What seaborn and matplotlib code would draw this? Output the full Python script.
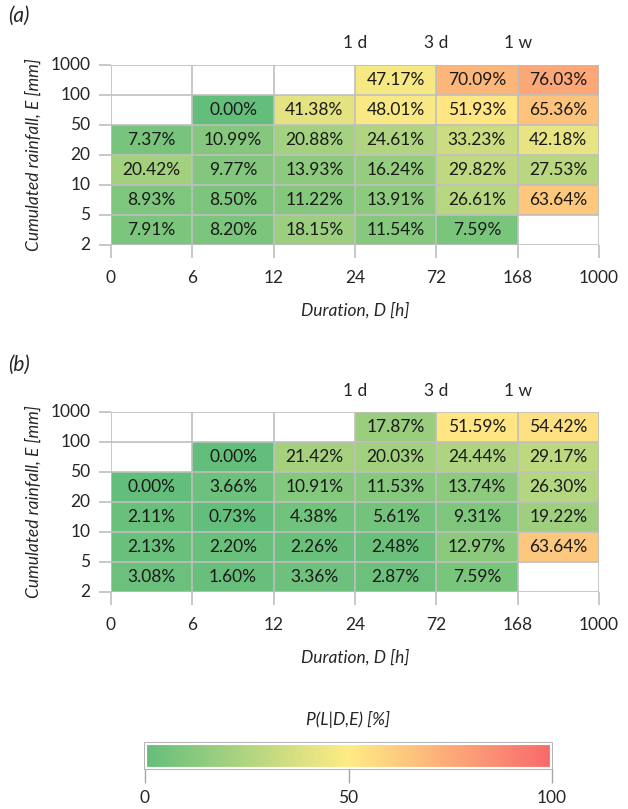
import numpy as np
import pandas as pd
import seaborn as sns
import matplotlib.pyplot as plt
from matplotlib.colors import LinearSegmentedColormap
from matplotlib.patches import Rectangle

# rows: rainfall classes (top -> bottom), columns: duration classes
e_ticks = ['1000', '100', '50', '20', '10', '5', '2']
d_ticks = ['0', '6', '12', '24', '72', '168', '1000']
top_labels = ['1 d', '3 d', '1 w']
top_pos = [3, 4, 5]

nan = np.nan
p_a = [
    [nan, nan, nan, 47.17, 70.09, 76.03],
    [nan, 0.00, 41.38, 48.01, 51.93, 65.36],
    [7.37, 10.99, 20.88, 24.61, 33.23, 42.18],
    [20.42, 9.77, 13.93, 16.24, 29.82, 27.53],
    [8.93, 8.50, 11.22, 13.91, 26.61, 63.64],
    [7.91, 8.20, 18.15, 11.54, 7.59, nan],
]
p_b = [
    [nan, nan, nan, 17.87, 51.59, 54.42],
    [nan, 0.00, 21.42, 20.03, 24.44, 29.17],
    [0.00, 3.66, 10.91, 11.53, 13.74, 26.30],
    [2.11, 0.73, 4.38, 5.61, 9.31, 19.22],
    [2.13, 2.20, 2.26, 2.48, 12.97, 63.64],
    [3.08, 1.60, 3.36, 2.87, 7.59, nan],
]

sns.set_style('white')
plt.rcParams['font.family'] = ['Lato', 'DejaVu Sans']

cmap = LinearSegmentedColormap.from_list('gyr', ['#63BE7B', '#FFEB84', '#F8696B'])
grid_col = '#BFBFBF'

fig = plt.figure(figsize=(6.28, 8.09), dpi=100)
W, H = 628, 809


def px_axes(x0, y0, x1, y1):
    return fig.add_axes([x0 / W, 1 - y1 / H, (x1 - x0) / W, (y1 - y0) / H])


def draw_panel(ax, vals, letter, y_letter):
    df = pd.DataFrame(vals)
    annot = df.map(lambda v: '' if pd.isna(v) else f'{v:.2f}%')
    sns.heatmap(df, ax=ax, cmap=cmap, vmin=0, vmax=100, cbar=False,
                annot=annot, fmt='', annot_kws={'fontsize': 12.5, 'color': '#1a1a1a'})
    ax.hlines(range(7), 0, 6, color=grid_col, lw=1.2, zorder=5)
    ax.vlines(range(7), 0, 6, color=grid_col, lw=1.2, zorder=5)
    ax.set_xlim(0, 6)
    ax.set_ylim(6, 0)
    ax.set_xticks(range(7))
    ax.set_xticklabels(d_ticks, rotation=0, fontsize=12.5)
    ax.set_yticks(range(7))
    ax.set_yticklabels(e_ticks, rotation=0, fontsize=12.5)
    ax.tick_params(axis='both', bottom=True, left=True, length=9, width=1.2,
                   color=grid_col, pad=6)
    ax.tick_params(axis='x', pad=9)
    for s in ax.spines.values():
        s.set_visible(False)
    ax.set_xlabel('Duration, D [h]', fontsize=12.5, style='italic', labelpad=12)
    ax.set_ylabel('Cumulated rainfall, E [mm]', fontsize=12.5, style='italic', labelpad=6)
    for lab, pos in zip(top_labels, top_pos):
        ax.text(pos, -0.45, lab, ha='center', va='bottom', fontsize=12.5)
    fig.text(8 / W, 1 - y_letter / H, letter, fontsize=15, style='italic', va='center')


ax_a = px_axes(111, 65, 599, 245)
draw_panel(ax_a, p_a, '(a)', 16)
ax_b = px_axes(111, 412, 599, 592)
draw_panel(ax_b, p_b, '(b)', 365)

# colour scale
cax = px_axes(145, 743, 552, 769)
sm = plt.cm.ScalarMappable(cmap=cmap, norm=plt.Normalize(0, 100))
cb = fig.colorbar(sm, cax=cax, orientation='horizontal')
cb.set_ticks([0, 50, 100])
cb.outline.set_edgecolor('#A6A6A6')
cb.outline.set_linewidth(1.2)
cax.add_patch(Rectangle((0, 0), 1, 1, transform=cax.transAxes, fill=False,
                        edgecolor='white', lw=3, zorder=4))
cax.tick_params(axis='x', bottom=True, length=10, width=1, color='#A6A6A6',
                labelsize=12.5, pad=5)
cax.set_title('P(L|D,E) [%]', fontsize=12.5, style='italic', pad=13)

fig.savefig('out.png', dpi=100)
